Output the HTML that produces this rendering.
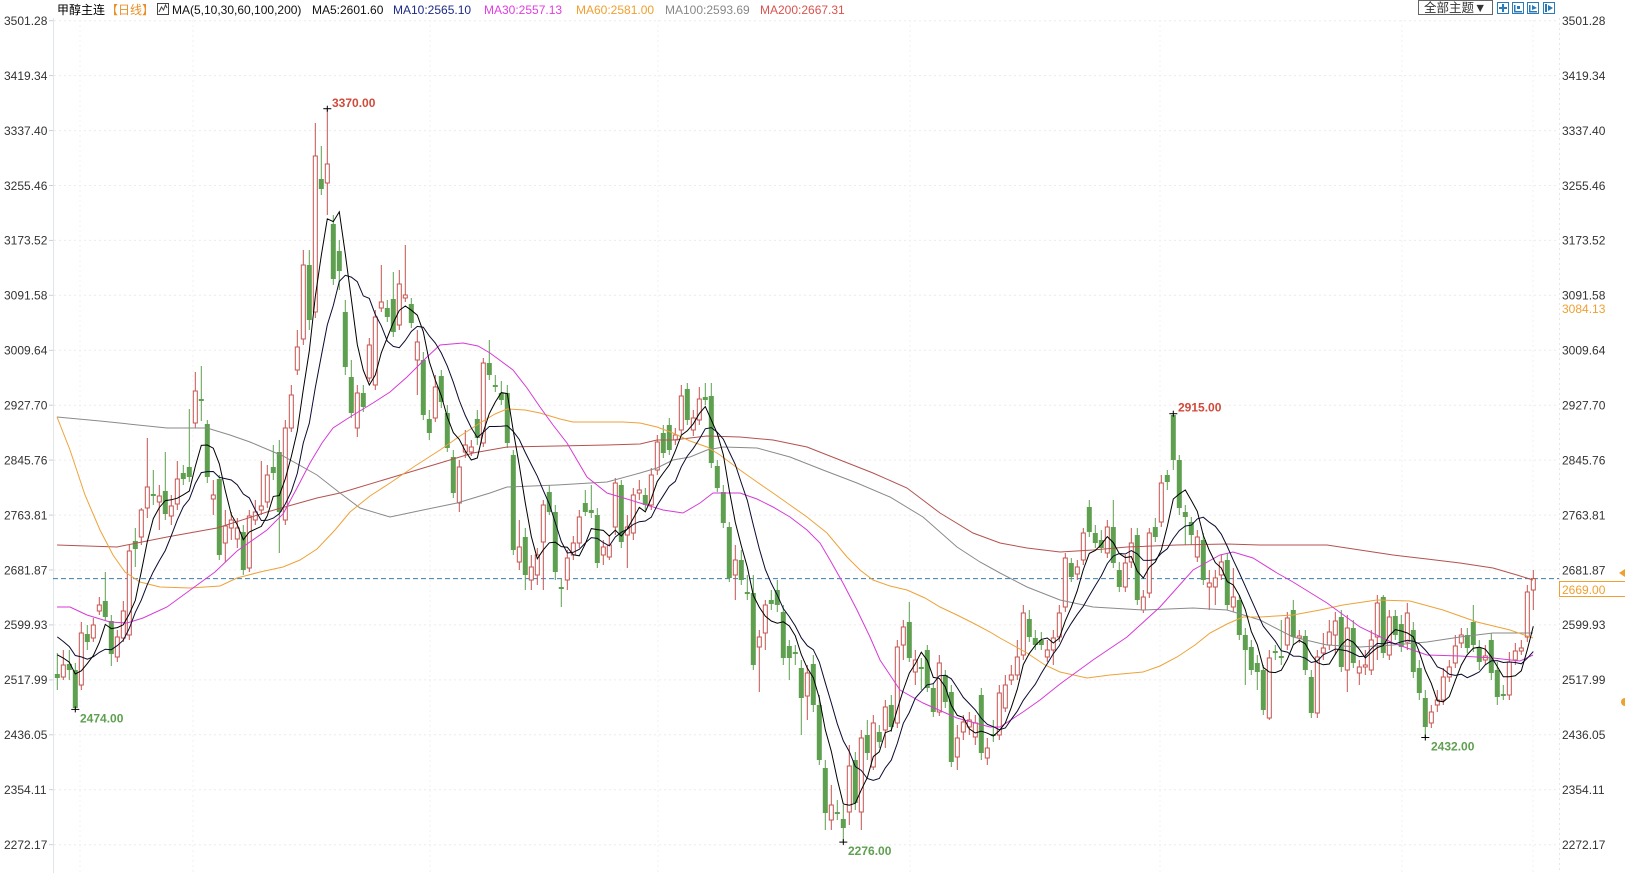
<!DOCTYPE html>
<html><head><meta charset="utf-8">
<style>
html,body{margin:0;padding:0;background:#fff;overflow:hidden;}
svg{display:block;}
text{font-family:"Liberation Sans","Noto Sans CJK SC",sans-serif;}
</style></head>
<body>
<svg id="c" width="1625" height="873" viewBox="0 0 1625 873" xmlns="http://www.w3.org/2000/svg">
<rect x="0" y="0" width="1625" height="873" fill="#fff"/>
<g id="grid"></g>
<line x1="53.5" y1="18" x2="53.5" y2="873" stroke="#dfe5ea" stroke-width="1"/>
<line x1="1559.5" y1="18" x2="1559.5" y2="873" stroke="#e6e6e6" stroke-width="1" stroke-dasharray="2 3"/>
<line x1="53" y1="578.6" x2="1559" y2="578.6" stroke="#3d7fae" stroke-width="1" stroke-dasharray="5 3"/>
<g id="candles"></g>
<g id="ma"></g>
<g id="marks"></g>

<!-- header -->
<text x="57" y="14" font-size="12" fill="#000">甲醇主连</text>
<text x="106" y="14" font-size="12" fill="#e8902a">【日线】</text>
<rect x="157.5" y="3.5" width="11" height="11" fill="#fff" stroke="#444"/>
<polyline points="159,12 161.5,7 163.5,10 165.5,5 167,8" fill="none" stroke="#444" stroke-width="1"/>
<text x="172" y="14" font-size="12" fill="#111">MA(5,10,30,60,100,200)</text>
<text x="312" y="14" font-size="12" fill="#111">MA5:2601.60</text>
<text x="393" y="14" font-size="12" fill="#1c2a86">MA10:2565.10</text>
<text x="484" y="14" font-size="12" fill="#e03ee0">MA30:2557.13</text>
<text x="576" y="14" font-size="12" fill="#f0a030">MA60:2581.00</text>
<text x="665" y="14" font-size="12" fill="#888">MA100:2593.69</text>
<text x="760" y="14" font-size="12" fill="#d9534f">MA200:2667.31</text>

<!-- toolbar -->
<rect x="1418.5" y="0.5" width="74" height="14" fill="#fff" stroke="#666"/>
<text x="1424" y="12" font-size="12.5" fill="#333">全部主题▼</text>
<g stroke="#2b7bb9" fill="#fff">
<rect x="1497.5" y="2.5" width="11" height="11"/>
<rect x="1512.5" y="2.5" width="11" height="11"/>
<rect x="1527.5" y="2.5" width="11" height="11"/>
<rect x="1543.5" y="2.5" width="11" height="11"/>
</g>
<g fill="#2b7bb9">
<rect x="1502" y="4" width="2" height="8"/><rect x="1499" y="7" width="8" height="2"/>
<rect x="1514" y="5" width="1.5" height="7"/><rect x="1514" y="11" width="8" height="1.5"/><rect x="1517" y="6" width="3" height="3"/>
<rect x="1529" y="5" width="1.5" height="7"/><rect x="1529" y="11" width="8" height="1.5"/><polygon points="1532,5 1537,8 1532,10"/>
<rect x="1545" y="4" width="2" height="8"/><polygon points="1548,5 1553,8 1548,11"/>
</g>

<!-- y labels -->
<g id="ylab" font-size="12" fill="#333">
<text x="4" y="25">3501.28</text><text x="1562" y="25">3501.28</text>
<text x="4" y="80">3419.34</text><text x="1562" y="80">3419.34</text>
<text x="4" y="135">3337.40</text><text x="1562" y="135">3337.40</text>
<text x="4" y="190">3255.46</text><text x="1562" y="190">3255.46</text>
<text x="4" y="244.7">3173.52</text><text x="1562" y="244.7">3173.52</text>
<text x="4" y="299.6">3091.58</text><text x="1562" y="299.6">3091.58</text>
<text x="4" y="354.6">3009.64</text><text x="1562" y="354.6">3009.64</text>
<text x="4" y="409.5">2927.70</text><text x="1562" y="409.5">2927.70</text>
<text x="4" y="464.4">2845.76</text><text x="1562" y="464.4">2845.76</text>
<text x="4" y="519.4">2763.81</text><text x="1562" y="519.4">2763.81</text>
<text x="4" y="574.3">2681.87</text><text x="1562" y="574.3">2681.87</text>
<text x="4" y="629.2">2599.93</text><text x="1562" y="629.2">2599.93</text>
<text x="4" y="684.2">2517.99</text><text x="1562" y="684.2">2517.99</text>
<text x="4" y="739.1">2436.05</text><text x="1562" y="739.1">2436.05</text>
<text x="4" y="794">2354.11</text><text x="1562" y="794">2354.11</text>
<text x="4" y="849">2272.17</text><text x="1562" y="849">2272.17</text>
</g>
<text x="1562" y="313" font-size="12" fill="#f0a030">3084.13</text>
<rect x="1559.5" y="581.5" width="66" height="15" fill="#fff" stroke="#f0a030"/>
<text x="1562" y="594" font-size="12" fill="#f0a030">2669.00</text>
<polygon points="1619,573 1625,569 1625,577" fill="#f0a030"/>
<circle cx="1625" cy="702" r="4" fill="#f0a030"/>

<!-- extreme labels -->
<text x="332" y="107" font-size="12" font-weight="bold" fill="#d04a3a">3370.00</text>
<text x="1178" y="411.5" font-size="12" font-weight="bold" fill="#d04a3a">2915.00</text>
<text x="848" y="855" font-size="12" font-weight="bold" fill="#5e9f50">2276.00</text>
<text x="80" y="722.5" font-size="12" font-weight="bold" fill="#5e9f50">2474.00</text>
<text x="1431" y="750.5" font-size="12" font-weight="bold" fill="#5e9f50">2432.00</text>
</svg>
<script>
(function(){
const NS='http://www.w3.org/2000/svg';
const D=[
['g',674,678,653,690],['r',665,677,650,680],['g',664,670,650,680],['g',670,708,663,709.4],['r',633,685,622,690],
['g',634,642,625,650],['r',625,638,618,642],['r',605,611,597,615],['g',601,617,572,620],['g',621,654,615,666],
['r',637,657,630,662],['r',611,638,601,642],['r',551,635,545,640],['g',541,549,528,567],['r',510,537,508,545],
['r',487,508,438,518],['g',494,496,470,505],['r',496,502,485,530],['g',491,514,452,520],['r',506,516,495,525],
['r',479,504,461,510],['g',473,479,465,485],['g',467,477,409,482],['r',391,423,372,428],['g',399,401,366,421],
['g',424,477,420,483],['r',495,499,480,515],['g',479,555,475,560],['r',526,543,510,562],['r',520,528,512,540],
['r',528,539,518,548],['g',532,570,525,575],['r',516,568,510,572],['r',512,520,500,525],['r',506,510,461,515],
['r',475,502,465,508],['g',467,473,445,480],['g',452,512,440,553],['r',428,520,420,525],['r',395,428,385,432],
['r',347,370,330,375],['r',265,339,250,345],['g',265,320,250,330],['r',156,312,123,318],['g',179,189,146,195],
['r',164,183,108.7,215],['g',224,279,215,285],['g',251,271,240,290],['g',312,367,300,375],['g',377,413,360,418],
['r',393,428,385,437],['g',393,407,385,412],['r',345,378,338,382],['r',317,385,310,390],['r',302,308,265,312],
['g',308,317,300,322],['g',299,332,272,337],['r',284,325,270,330],['r',295,298,245,302],['g',304,323,298,328],
['r',342,360,330,395],['g',360,415,352,420],['g',419,433,410,440],['r',387,418,375,422],['g',376,402,370,408],
['g',413,448,405,452],['g',457,493,450,498],['r',467,503,460,512],['r',445,452,430,458],['r',447,452,440,456],
['g',419,438,410,445],['r',363,443,358,447],['g',363,375,340,380],['g',385,387,375,392],['g',393,400,381,405],
['g',393,443,385,448],['g',455,550,450,555],['r',547,562,520,570],['g',537,575,528,590],['r',567,580,555,590],
['r',555,575,548,585],['r',505,542,500,590],['g',492,512,485,515],['g',512,572,505,580],['g',587,589,578,607],
['r',558,580,550,590],['r',543,555,536,560],['r',517,543,510,548],['g',503,512,490,516],['g',510,513,485,518],
['g',515,563,508,568],['r',547,555,540,565],['r',545,557,535,560],['r',483,527,478,535],['g',485,542,480,548],
['r',527,535,515,568],['r',495,533,488,540],['r',490,493,480,500],['g',495,505,488,510],['r',475,505,468,510],
['r',442,470,435,475],['g',433,453,425,458],['g',425,450,418,455],['r',435,440,428,445],['r',396,430,385,435],
['g',389,420,383,425],['r',418,430,410,436],['r',399,420,387,425],['g',397,400,383,405],['g',396,463,383,468],
['g',466,488,460,492],['g',492,523,485,528],['g',527,578,522,582],['r',560,575,545,600],['g',560,580,550,585],
['g',592,594,575,600],['g',593,665,575,670],['r',637,647,630,692],['r',605,633,600,650],['g',600,604,590,610],
['g',590,605,580,612],['g',612,658,605,665],['g',646,658,640,680],['g',652,654,645,665],['g',668,698,660,735],
['r',673,696,665,720],['g',664,705,655,712],['g',705,760,695,765],['g',768,813,760,830],['r',805,820,785,830],
['g',812,814,800,820],['g',819,828,805,842.1],['r',766,812,745,825],['g',760,803,752,810],['r',738,812,730,830],
['g',735,753,720,760],['r',723,767,715,770],['g',732,742,725,748],['r',707,730,700,748],['g',705,727,695,732],
['r',647,723,640,728],['r',627,645,620,660],['g',622,658,602,662],['r',660,672,650,685],['g',667,669,658,690],
['g',650,688,645,692],['g',688,712,683,717],['r',663,712,655,716],['g',675,702,670,708],['g',692,762,685,767],
['r',738,757,725,770],['r',722,732,715,740],['r',720,727,712,735],['r',723,737,715,745],['g',695,753,688,760],
['r',748,758,738,765],['g',734,736,720,742],['r',693,735,685,740],['r',685,708,675,712],['r',675,680,665,685],
['r',657,675,640,680],['r',613,655,605,660],['g',619,637,610,642],['g',638,645,630,650],['g',640,645,632,650],
['r',650,657,640,662],['r',638,650,630,665],['r',613,637,605,642],['r',558,607,553,612],['g',563,577,558,582],
['r',567,574,560,580],['r',533,560,528,565],['g',507,532,500,537],['g',533,543,525,548],['g',540,548,530,553],
['r',527,553,520,558],['g',527,563,500,568],['g',570,587,562,592],['r',563,587,555,592],['r',543,562,528,568],
['g',535,600,528,605],['r',597,610,590,613],['r',533,593,528,598],['g',527,537,518,542],['r',483,522,475,527],
['g',475,482,470,490],['g',415,460,413.7,470],['g',460,508,455,515],['g',512,517,505,545],['g',522,535,517,545],
['r',537,557,530,562],['g',540,580,533,585],['r',583,587,570,610],['r',578,587,570,605],['r',562,575,555,580],
['g',560,605,553,610],['r',597,607,568,612],['g',600,635,595,640],['g',635,650,628,685],['g',647,670,640,675],
['g',663,672,655,690],['g',670,710,665,715],['r',658,718,650,720],['g',651,653,645,660],['g',656,658,620,665],
['r',618,645,612,650],['g',610,637,600,645],['r',636,638,630,643],['g',636,670,630,675],['g',677,713,670,718],
['r',657,713,650,718],['r',648,653,633,660],['r',632,645,620,650],['r',621,635,612,655],['g',617,667,610,672],
['r',628,670,615,692],['g',628,663,620,668],['r',667,673,660,685],['r',665,667,650,675],['r',640,670,630,675],
['r',603,637,595,660],['g',597,653,595,658],['r',617,655,610,660],['g',616,635,610,640],['g',624,647,615,652],
['r',613,642,603,650],['g',630,672,622,678],['g',668,693,660,700],['g',698,727,690,737.5],['r',712,723,705,728],
['r',700,705,690,712],['r',677,700,668,705],['r',667,677,660,682],['r',646,663,635,668],['r',635,643,628,648],
['g',635,648,628,653],['g',622,645,605,652],['g',648,662,640,670],['r',656,660,645,665],['g',640,673,633,680],
['g',670,697,662,705],['g',694,696,685,700],['r',662,695,652,700],['r',651,660,643,665],['r',648,651,640,655],
['r',592,637,585,642],['r',578.6,590,570,610]
];
const X0=57.3, DX=6;
const RED='#c4534e', GRN='#5e9f50';
let cs='';
const closes=[];
D.forEach((d,i)=>{
  const x=(X0+DX*i).toFixed(1);
  const [t,top,bot,hi,lo]=d;
  const col=t==='r'?RED:GRN;
  cs+=`<line x1="${x}" y1="${hi}" x2="${x}" y2="${top}" stroke="${col}" stroke-width="1"/>`;
  cs+=`<line x1="${x}" y1="${bot}" x2="${x}" y2="${lo}" stroke="${col}" stroke-width="1"/>`;
  const h=Math.max(bot-top,1.2);
  if(t==='r') cs+=`<rect x="${(X0+DX*i-2).toFixed(1)}" y="${top}" width="4" height="${h}" fill="#fff" stroke="${col}" stroke-width="1"/>`;
  else cs+=`<rect x="${(X0+DX*i-2.5).toFixed(1)}" y="${top}" width="5" height="${h}" fill="${col}"/>`;
  closes.push(t==='r'?top:bot);
});
document.getElementById('candles').innerHTML=cs;

// grid
let gs='';
for(let k=0;k<16;k++){
  const y=(20.7+54.93*k).toFixed(1);
  gs+=`<line x1="54" y1="${y}" x2="1559" y2="${y}" stroke="#ececec" stroke-width="1" stroke-dasharray="2 3"/>`;
  gs+=`<line x1="49" y1="${y}" x2="53" y2="${y}" stroke="#c8d0d8" stroke-width="1"/>`;
}
[80,193,430,658,910,1160,1402,1533].forEach(x=>{
  gs+=`<line x1="${x}" y1="20" x2="${x}" y2="873" stroke="#f1f1f1" stroke-width="1" stroke-dasharray="2 3"/>`;
});
document.getElementById('grid').innerHTML=gs;

// MAs computed
const pre=[619,619,619,619,619,649,649,649,649];
const all=pre.concat(closes);
function ma(n){
  const pts=[];
  for(let i=0;i<closes.length;i++){
    const idx=i+pre.length;
    let s=0,c=0;
    for(let j=Math.max(0,idx-n+1);j<=idx;j++){s+=all[j];c++;}
    pts.push((X0+DX*i).toFixed(1)+','+(s/c).toFixed(1));
  }
  return pts.join(' ');
}
const MA60=[[57,417],[70,450],[85,495],[100,530],[113,555],[125,572],[140,582],[160,587],[190,588],[220,586],[237,578],[260,572],[283,567],[300,560],[317,549],[335,530],[350,512],[370,496],[390,483],[415,466],[440,450],[460,436],[480,423],[495,414],[507,409],[525,410],[540,413],[560,419],[573,422],[600,422],[623,422],[640,423],[657,427],[673,433],[690,441],[707,447],[720,455],[740,470],[757,482],[773,493],[790,505],[807,517],[827,533],[847,557],[860,570],[873,580],[890,586],[907,590],[925,598],[940,607],[957,615],[973,623],[990,632],[1000,638],[1027,653],[1045,665],[1060,672],[1087,678],[1110,675],[1143,672],[1160,666],[1177,657],[1195,645],[1210,633],[1227,624],[1243,617],[1260,617],[1293,615],[1320,610],[1343,605],[1377,600],[1410,601],[1443,610],[1477,622],[1510,630],[1533,638]];
const MA100=[[57,417],[100,421],[167,428],[207,428],[230,435],[250,442],[283,456],[317,475],[340,493],[360,508],[390,517],[423,510],[457,503],[490,493],[507,487],[557,485],[607,482],[640,473],[657,468],[673,460],[690,457],[707,450],[723,447],[757,448],[790,457],[823,470],[857,483],[890,497],[923,517],[957,547],[980,562],[1000,573],[1027,587],[1060,600],[1093,607],[1143,610],[1193,608],[1227,610],[1260,620],[1293,637],[1327,645],[1360,647],[1393,645],[1427,642],[1460,637],[1493,633],[1533,633]];
const MA200=[[57,545],[117,547],[167,537],[217,528],[267,512],[317,498],[340,493],[390,478],[440,463],[473,453],[507,447],[557,446],[607,445],[640,444],[657,440],[673,440],[707,436],[740,437],[773,440],[807,447],[840,460],[873,473],[907,488],[940,513],[973,533],[1000,543],[1027,548],[1060,552],[1093,550],[1127,547],[1177,545],[1227,544],[1260,545],[1327,545],[1360,550],[1393,555],[1427,559],[1460,563],[1493,568],[1517,575],[1533,580]];
const MA30=[[57,607],[70,607],[87,615],[110,622],[127,623],[143,618],[167,607],[193,588],[215,572],[237,551],[267,530],[283,514],[297,488],[310,463],[322,443],[333,428],[350,417],[373,403],[390,392],[407,377],[427,357],[440,345],[463,343],[478,346],[490,353],[513,370],[527,388],[540,407],[553,425],[567,443],[587,477],[607,493],[640,503],[663,510],[683,513],[700,503],[713,493],[740,493],[757,499],[773,507],[790,517],[807,530],[820,543],[830,560],[843,583],[857,610],[870,637],[880,660],[900,690],[923,703],[957,718],[990,727],[1000,727],[1023,712],[1040,700],[1060,684],[1093,660],[1127,637],[1160,607],[1193,570],[1220,555],[1233,552],[1253,558],[1277,573],[1293,582],[1327,603],[1360,627],[1393,643],[1427,655],[1460,656],[1493,658],[1520,661],[1533,655]];
const pp=a=>a.map(p=>p[0]+','+p[1]).join(' ');
let ms='';
ms+=`<polyline points="${pp(MA200)}" fill="none" stroke="#b4524f" stroke-width="1"/>`;
ms+=`<polyline points="${pp(MA100)}" fill="none" stroke="#8a8a8a" stroke-width="1"/>`;
ms+=`<polyline points="${pp(MA60)}" fill="none" stroke="#eea23a" stroke-width="1"/>`;
ms+=`<polyline points="${pp(MA30)}" fill="none" stroke="#d63ad6" stroke-width="1"/>`;
ms+=`<polyline points="${ma(10)}" fill="none" stroke="#0a0a30" stroke-width="1"/>`;
ms+=`<polyline points="${ma(5)}" fill="none" stroke="#000" stroke-width="1"/>`;
document.getElementById('ma').innerHTML=ms;

// extreme markers
let mk='';
[[45,108.7],[186,413.7],[131,842.1],[3,709.4],[228,737.5]].forEach(([i,y])=>{
  const x=X0+DX*i;
  mk+=`<line x1="${(x-4).toFixed(1)}" y1="${y}" x2="${(x+4).toFixed(1)}" y2="${y}" stroke="#000" stroke-width="1"/>`;
  mk+=`<line x1="${x.toFixed(1)}" y1="${y-3}" x2="${x.toFixed(1)}" y2="${y+3}" stroke="#000" stroke-width="1"/>`;
});
document.getElementById('marks').innerHTML=mk;
})();
</script>
</body></html>
